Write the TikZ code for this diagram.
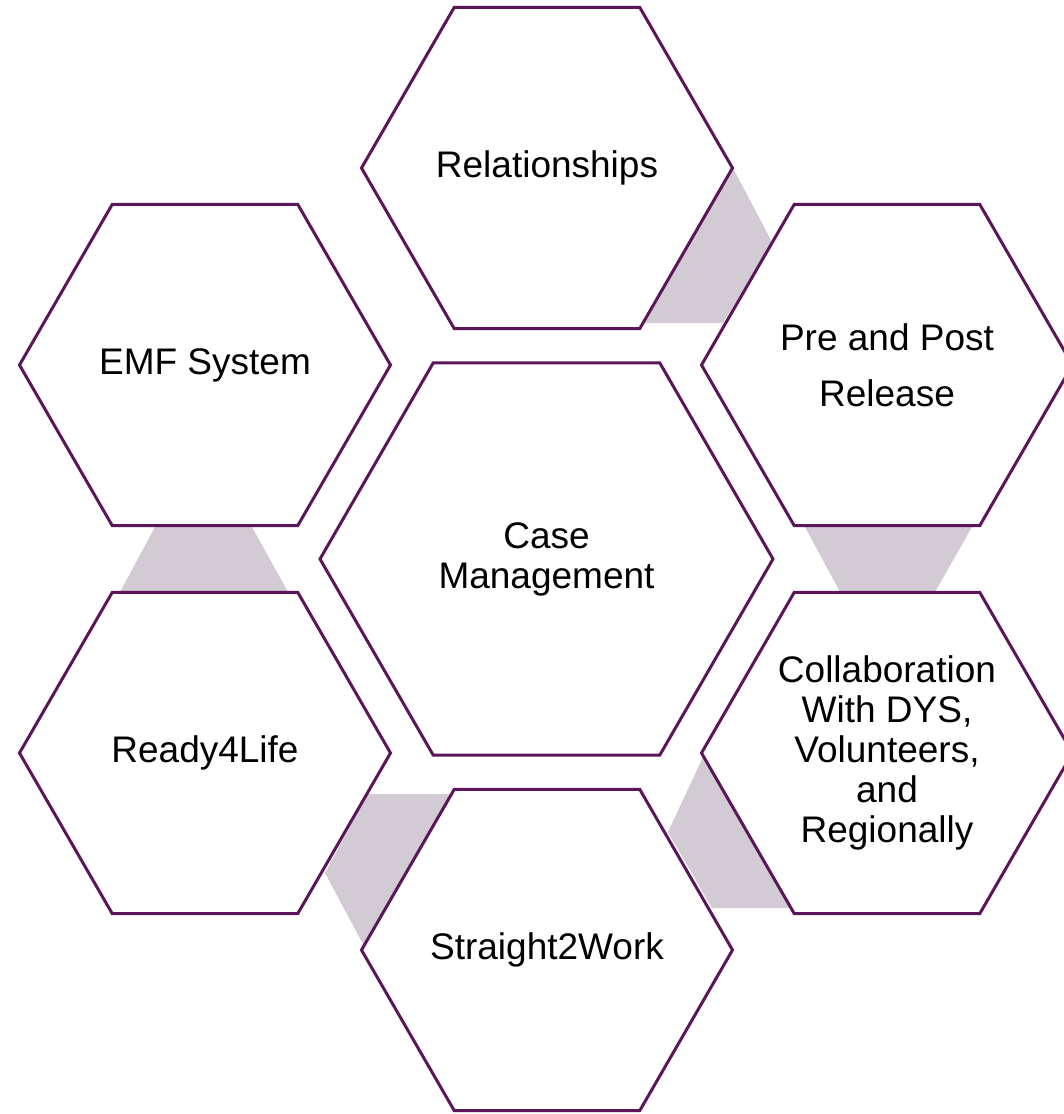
\documentclass[tikz,border=0pt]{standalone}
\usepackage{fontspec}
\setmainfont{Liberation Sans}
\usetikzlibrary{shapes.geometric}
\definecolor{hexline}{RGB}{90,22,88}
\definecolor{linkfill}{RGB}{210,203,212}
\begin{document}
\begin{tikzpicture}[x=1pt,y=-1pt,
  hexa/.style={regular polygon, regular polygon sides=6, draw=hexline, line width=3pt,
    fill=white, inner sep=0pt, minimum size=371pt, align=center,
    font=\fontsize{37}{40}\selectfont, text=black},
  bighexa/.style={hexa, minimum size=453pt},
  link/.style={fill=linkfill, draw=none}]
\useasboundingbox (0,0) rectangle (1064,1114);
\clip (0,0) rectangle (1064,1114);
% connecting bands
\path[link] (733,168) -- (772,242) -- (723,323) -- (645,323) -- cycle;
\path[link] (805,527) -- (972,527) -- (935,592) -- (840,592) -- cycle;
\path[link] (155,527) -- (252,527) -- (288,592) -- (120,592) -- cycle;
\path[link] (367,794) -- (452,794) -- (364,946) -- (325,873) -- cycle;
\path[link] (703,757) -- (668,832) -- (712,908) -- (790,908) -- cycle;
% hexagons
\node[hexa] (rel) at (547,168) {Relationships};
\node[hexa, font=\fontsize{37}{56}\selectfont] (pre) at (887,365) {Pre and Post\\Release};
\node[hexa] (emf) at (205,365) {EMF System};
\node[bighexa] (case) at (546.5,559) {Case\\Management};
\node[hexa] (ready) at (205,753) {Ready4Life};
\node[hexa] (collab) at (887,753) {Collaboration\\With DYS,\\Volunteers,\\and\\Regionally};
\node[hexa] (straight) at (547,950) {\makebox[0pt]{Straight2Work}};
\end{tikzpicture}
\end{document}
